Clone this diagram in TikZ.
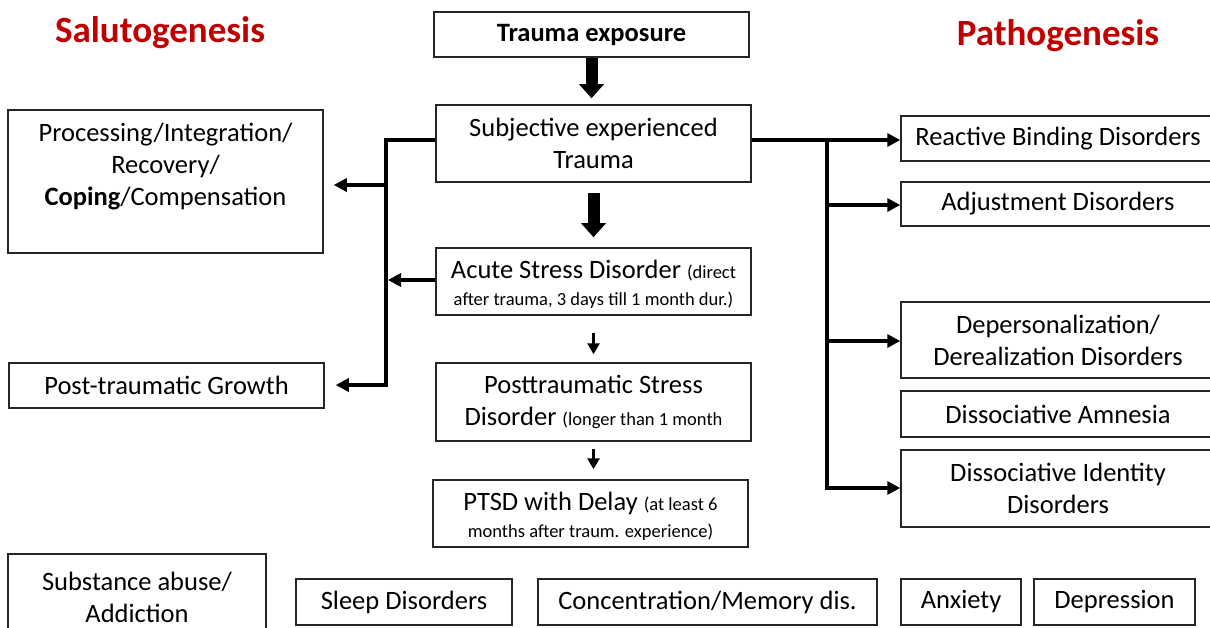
\documentclass[tikz,border=0pt]{standalone}
\usepackage{fontspec}
\setmainfont{Carlito}
\usetikzlibrary{arrows.meta}
\newcommand\bigf{\fontsize{26.5}{32}\selectfont}
\newcommand\smf{\fontsize{18.5}{27}\selectfont}
\definecolor{titlered}{RGB}{192,0,0}
\begin{document}
\begin{tikzpicture}[x=1pt,y=-1pt,
 box/.style={draw=black!85, line width=1.5pt, rectangle, inner sep=0pt, align=center, font=\bigf},
 txt/.style={inner sep=0pt, align=center, font=\bigf},
 conn/.style={line width=4pt, line join=miter, -{Triangle[width=13pt,length=13pt]}},
 bigarr/.style={line width=12pt, -{Triangle[width=24pt,length=14pt]}},
 smallarr/.style={line width=3pt, -{Triangle[width=12pt,length=11pt]}},
 ttl/.style={font=\fontsize{37}{44}\selectfont\bfseries, text=titlered}]
\clip (0,0) rectangle (1210,628);
\fill[white] (0,0) rectangle (1210,628);

% titles
\node[ttl] (sal) at (160,33) {Salutogenesis};
\node[ttl] (path) at (1058,36) {Pathogenesis};

% centre column
\node[box, minimum width=315pt, minimum height=45pt] (expo) at (591.5,34.5) {\textbf{Trauma exposure}};
\node[box, minimum width=315pt, minimum height=77pt] (subj) at (593.5,143.5) {Subjective experienced\\Trauma};
\node[box, minimum width=315pt, minimum height=67pt] (acute) at (593.5,281.5) {};
\node[txt] (acutetext) at (593.5,284.5) {Acute Stress Disorder {\smf (direct}\\[-5pt]{\smf after trauma, 3 days till 1 month dur.)}};
\node[box, minimum width=315pt, minimum height=78pt] (pts) at (593.5,402) {Posttraumatic Stress\\Disorder {\smf (longer than 1 month}};
\node[box, minimum width=315pt, minimum height=67pt] (delay) at (590.5,513.5) {};
\node[txt] (delaytext) at (590.5,516) {PTSD with Delay {\smf (at least 6}\\[-5pt]{\smf months after traum. experience)}};

% left column
\node[box, minimum width=315pt, minimum height=143pt] (proc) at (165.5,181.5) {};
\node[txt] (proctext) at (165.5,167) {Processing/Integration/\\Recovery/\\\textbf{Coping}/Compensation};
\node[box, minimum width=315pt, minimum height=45pt] (growth) at (166.5,385.5) {Post-traumatic Growth};

% right column
\node[box, minimum width=314pt, minimum height=45pt] (react) at (1058,138.5) {Reactive Binding Disorders};
\node[box, minimum width=314pt, minimum height=44pt] (adj) at (1058,204) {Adjustment Disorders};
\node[box, minimum width=314pt, minimum height=76pt] (deper) at (1058,340) {Depersonalization/\\Derealization Disorders};
\node[box, minimum width=314pt, minimum height=46pt] (amn) at (1058,414) {Dissociative Amnesia};
\node[box, minimum width=314pt, minimum height=77pt] (ident) at (1058,488.5) {Dissociative Identity\\Disorders};

% bottom row
\node[box, minimum width=258pt, minimum height=86pt] (subst) at (137,597) {Substance abuse/\\Addiction};
\node[box, minimum width=216pt, minimum height=46pt] (sleep) at (404,602) {Sleep Disorders};
\node[box, minimum width=339pt, minimum height=46pt] (conc) at (707.5,602) {Concentration/Memory dis.};
\node[box, minimum width=120pt, minimum height=46pt] (anx) at (961,602) {Anxiety};
\node[box, minimum width=161pt, minimum height=46pt] (dep) at (1114.5,602) {Depression};

% centre arrows
\draw[bigarr, shorten >=6pt] (expo.south) -- (expo.south |- subj.north);
\draw[bigarr, shorten <=10pt, shorten >=10pt] (subj.south) -- (acute.north);
\draw[smallarr, shorten <=17pt, shorten >=8pt] (acute.south) -- (pts.north);
\draw[smallarr, shorten <=7pt, shorten >=10pt] (pts.south) -- (pts.south |- delay.north);

% left connectors
\coordinate (lt) at (386,140);
\coordinate (lm) at (386,185);
\coordinate (la) at (388,280);
\coordinate (lb) at (386,385);
\draw[conn, shorten >=11pt] (subj.west |- lt) -- (lt) -- (lb) -- (growth.east |- lb);
\draw[conn, shorten >=10pt] (lm) -- (proc.east |- lm);
\draw[conn] (acute.west |- la) -- (la);

% right connectors
\coordinate (rt) at (827,140);
\coordinate (ra) at (827,205);
\coordinate (rd) at (827,341);
\coordinate (ri) at (827,488);
\draw[conn] (subj.east |- rt) -- (react.west |- rt);
\draw[conn] (rt) -- (ri) -- (ident.west |- ri);
\draw[conn] (ra) -- (adj.west |- ra);
\draw[conn] (rd) -- (deper.west |- rd);
\end{tikzpicture}
\end{document}
